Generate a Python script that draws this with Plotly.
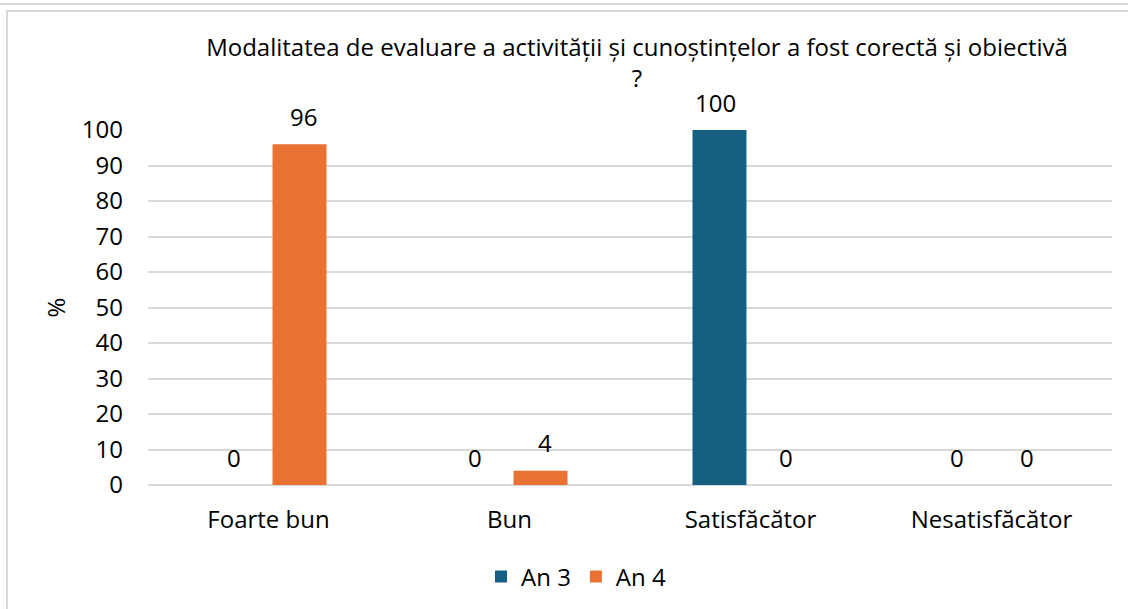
import plotly.graph_objects as go

categories = ["Foarte bun", "Bun", "Satisfăcător", "Nesatisfăcător"]
an3 = [0, 0, 100, 0]
an4 = [96, 4, 0, 0]
series_names = ["An 3", "An 4"]
colors = ["#156082", "#E97132"]
title_text = "Modalitatea de evaluare a activității și cunoștințelor a fost corectă și obiectivă<br>?"
yticks = list(range(0, 101, 10))

FONT = "Open Sans"
FS = 24
W, H = 1128, 609
L, R, T, B = 148, 16, 130, 124
pw, ph = W - L - R, H - T - B

fig = go.Figure()
for name, vals, col in zip(series_names, [an3, an4], colors):
    fig.add_trace(go.Bar(x=categories, y=vals, name=name, marker_color=col,
                         marker_line_width=0))

# data labels
for vals, dx in zip([an3, an4], [-35, 35]):
    for c, v in zip(categories, vals):
        fig.add_annotation(x=c, y=v, text=str(v), showarrow=False, xshift=dx,
                           yshift=28, yanchor="middle",
                           font=dict(family=FONT, size=FS, color="#000000"))

def px_x(p):
    return (p - L) / pw

def px_y(p):
    return (H - B - p) / ph

fig.add_shape(type="line", xref="paper", yref="paper", x0=px_x(-5), x1=px_x(W + 5),
              y0=px_y(4), y1=px_y(4), line=dict(color="#d9d9d9", width=2))
fig.add_shape(type="rect", xref="paper", yref="paper", x0=px_x(7), x1=px_x(W + 20),
              y0=px_y(11), y1=px_y(H + 20), line=dict(color="#d9d9d9", width=2),
              fillcolor="rgba(0,0,0,0)")

fig.update_layout(
    width=W, height=H,
    margin=dict(l=L, r=R, t=T, b=B),
    paper_bgcolor="white", plot_bgcolor="white",
    barmode="group", bargap=0.485, bargroupgap=0.13,
    title=dict(text=title_text, x=637 / W, xanchor="center", xref="container",
               y=1 - 56 / H, yanchor="middle",
               font=dict(family=FONT, size=FS, color="#000000")),
    font=dict(family=FONT, size=FS, color="#000000"),
    showlegend=True,
    legend=dict(orientation="h", x=576 / W, xref="container", xanchor="center",
                y=1 - 577 / H, yref="container", yanchor="middle",
                font=dict(family=FONT, size=FS, color="#000000"),
                itemwidth=30, traceorder="normal"),
    xaxis=dict(showgrid=False, showline=False, ticks="", ticklabelstandoff=18,
               tickfont=dict(family=FONT, size=FS, color="#000000")),
    yaxis=dict(range=[0, 100], tickvals=yticks, showgrid=True, gridcolor="#d9d9d9",
               gridwidth=1.5, zeroline=True, zerolinecolor="#d9d9d9", zerolinewidth=1.5,
               showline=False, ticks="", ticklabelstandoff=24,
               tickfont=dict(family=FONT, size=FS, color="#000000"),
               title=dict(text="%", standoff=9,
                          font=dict(family=FONT, size=FS, color="#000000"))),
)

fig.write_html("out.html", config={"displayModeBar": False},
               post_script="document.body.style.margin='0';")
